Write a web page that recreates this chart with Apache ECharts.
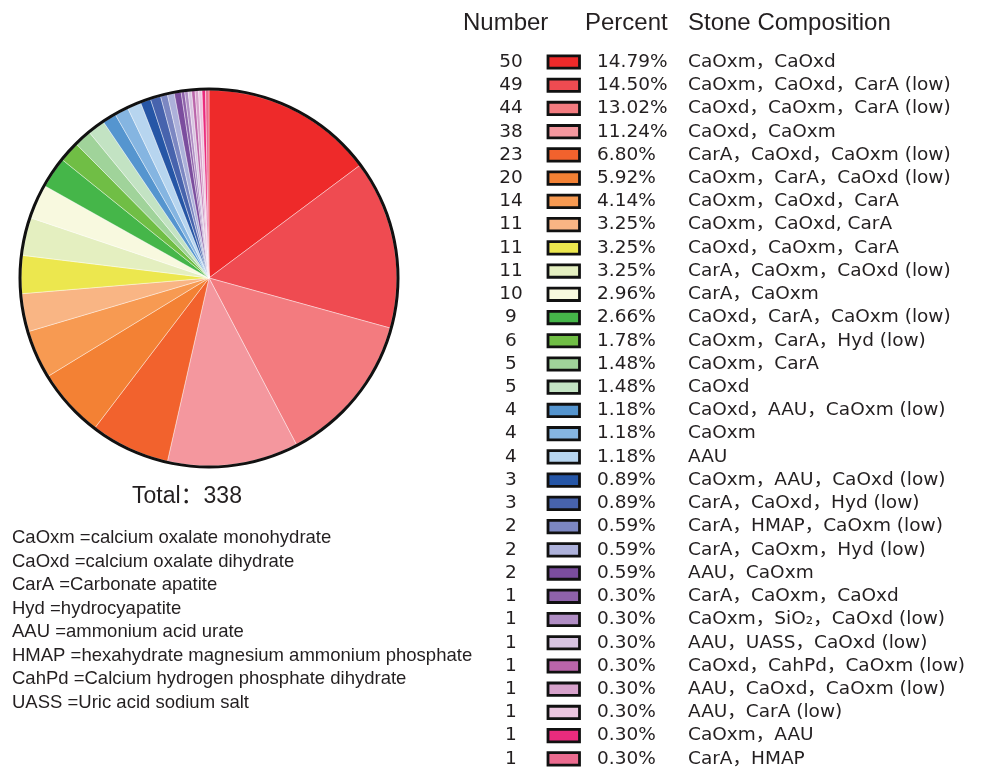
<!DOCTYPE html>
<html><head><meta charset="utf-8">
<script src="https://cdn.jsdelivr.net/npm/echarts@6/dist/echarts.min.js"></script>
<style>html,body{margin:0;padding:0;background:#fff}#c{width:991px;height:771px}</style>
</head><body><div id="c"></div>
<script>
const counts = [50,49,44,38,23,20,14,11,11,11,10,9,6,5,5,4,4,4,3,3,2,2,2,1,1,1,1,1,1,1,1];
const percents = ['14.79%','14.50%','13.02%','11.24%','6.80%','5.92%','4.14%','3.25%','3.25%','3.25%','2.96%','2.66%','1.78%','1.48%','1.48%','1.18%','1.18%','1.18%','0.89%','0.89%','0.59%','0.59%','0.59%','0.30%','0.30%','0.30%','0.30%','0.30%','0.30%','0.30%','0.30%'];
const compositions = [
  'CaOxm，CaOxd',
  'CaOxm，CaOxd，CarA (low)',
  'CaOxd，CaOxm，CarA (low)',
  'CaOxd，CaOxm',
  'CarA，CaOxd，CaOxm (low)',
  'CaOxm，CarA，CaOxd (low)',
  'CaOxm，CaOxd，CarA',
  'CaOxm，CaOxd, CarA',
  'CaOxd，CaOxm，CarA',
  'CarA，CaOxm，CaOxd (low)',
  'CarA，CaOxm',
  'CaOxd，CarA，CaOxm (low)',
  'CaOxm，CarA，Hyd (low)',
  'CaOxm，CarA',
  'CaOxd',
  'CaOxd，AAU，CaOxm (low)',
  'CaOxm',
  'AAU',
  'CaOxm，AAU，CaOxd (low)',
  'CarA，CaOxd，Hyd (low)',
  'CarA，HMAP，CaOxm (low)',
  'CarA，CaOxm，Hyd (low)',
  'AAU，CaOxm',
  'CarA，CaOxm，CaOxd',
  'CaOxm，SiO₂，CaOxd (low)',
  'AAU，UASS，CaOxd (low)',
  'CaOxd，CahPd，CaOxm (low)',
  'AAU，CaOxd，CaOxm (low)',
  'AAU，CarA (low)',
  'CaOxm，AAU',
  'CarA，HMAP'
];
const colors = ['#EE2A2A','#EF4B51','#F37B7F','#F4979E','#F2622D','#F38134','#F79A52','#F9B584','#ECE74E','#E4EFC0','#F8F9DF','#45B649','#70BE45','#A0D39A','#C3E3C3','#5595CF','#85B5E1','#B7D5EF','#2656A6','#4763AD','#7C87C2','#ADB1DA','#7B4D9E','#8E62AA','#B08DC4','#D7C3E0','#BA65AA','#D7A2CB','#EBC5DF','#EA2B7D','#EC6B8F'];
const headers = ['Number','Percent','Stone Composition'];
const totalLabel = 'Total：';
const abbreviations = [
  'CaOxm =calcium oxalate monohydrate',
  'CaOxd =calcium oxalate dihydrate',
  'CarA =Carbonate apatite',
  'Hyd =hydrocyapatite',
  'AAU =ammonium acid urate',
  'HMAP =hexahydrate magnesium ammonium phosphate',
  'CahPd =Calcium hydrogen phosphate dihydrate',
  'UASS =Uric acid sodium salt'
];

const total = counts.reduce((a, b) => a + b, 0);
const TXT = '#231F20';
const rowFont = 'DejaVu Sans';
const headFont = 'Liberation Sans';

const graphics = [];
const headerX = [463, 585, 688];
headers.forEach((h, i) => graphics.push({
  type: 'text', x: headerX[i], y: 23.5, silent: true,
  style: { text: h, fontSize: 24, fontFamily: headFont, fill: TXT, align: 'left', verticalAlign: 'middle' }
}));
const rowY0 = 62, rowStep = 23.23;
counts.forEach((c, i) => {
  const y = rowY0 + i * rowStep;
  graphics.push({ type: 'text', x: 511, y: y, silent: true,
    style: { text: String(c), fontSize: 18.5, fontFamily: rowFont, fill: TXT, align: 'center', verticalAlign: 'middle' } });
  graphics.push({ type: 'rect', silent: true,
    shape: { x: 548, y: y - 6.2, width: 31.5, height: 12.4 },
    style: { fill: colors[i], stroke: '#111', lineWidth: 2.8 } });
  graphics.push({ type: 'text', x: 597, y: y, silent: true,
    style: { text: percents[i], fontSize: 18.5, fontFamily: rowFont, fill: TXT, align: 'left', verticalAlign: 'middle' } });
  graphics.push({ type: 'text', x: 688, y: y, silent: true,
    style: { text: compositions[i], fontSize: 18.5, fontFamily: rowFont + ', "Noto Sans CJK SC"', fill: TXT, align: 'left', verticalAlign: 'middle' } });
});
graphics.push({ type: 'text', x: 132, y: 496.5, silent: true,
  style: { text: totalLabel + total, fontSize: 23, fontFamily: headFont + ', "Noto Sans CJK SC"', fill: TXT, align: 'left', verticalAlign: 'middle' } });
abbreviations.forEach((t, i) => graphics.push({
  type: 'text', x: 12, y: 538 + i * 23.5, silent: true,
  style: { text: t, fontSize: 18.5, fontFamily: headFont, fill: TXT, align: 'left', verticalAlign: 'middle' }
}));

const chart = echarts.init(document.getElementById('c'), null, { renderer: 'canvas' });
chart.setOption({
  backgroundColor: '#fff',
  animation: false,
  series: [
    {
      type: 'pie', center: [209, 278], radius: [0, 188], startAngle: 90, clockwise: true,
      avoidLabelOverlap: false, label: { show: false }, labelLine: { show: false },
      emphasis: { disabled: true }, silent: true,
      itemStyle: { borderColor: '#fff', borderWidth: 0.4 },
      data: counts.map((c, i) => ({ name: compositions[i], value: c, itemStyle: { color: colors[i] } }))
    },
    {
      type: 'pie', center: [209, 278], radius: [187.5, 190.5], silent: true,
      label: { show: false }, labelLine: { show: false }, emphasis: { disabled: true },
      itemStyle: { color: '#111', borderWidth: 0 },
      data: [{ name: 'outline', value: total }]
    }
  ],
  graphic: graphics
});
</script></body></html>
